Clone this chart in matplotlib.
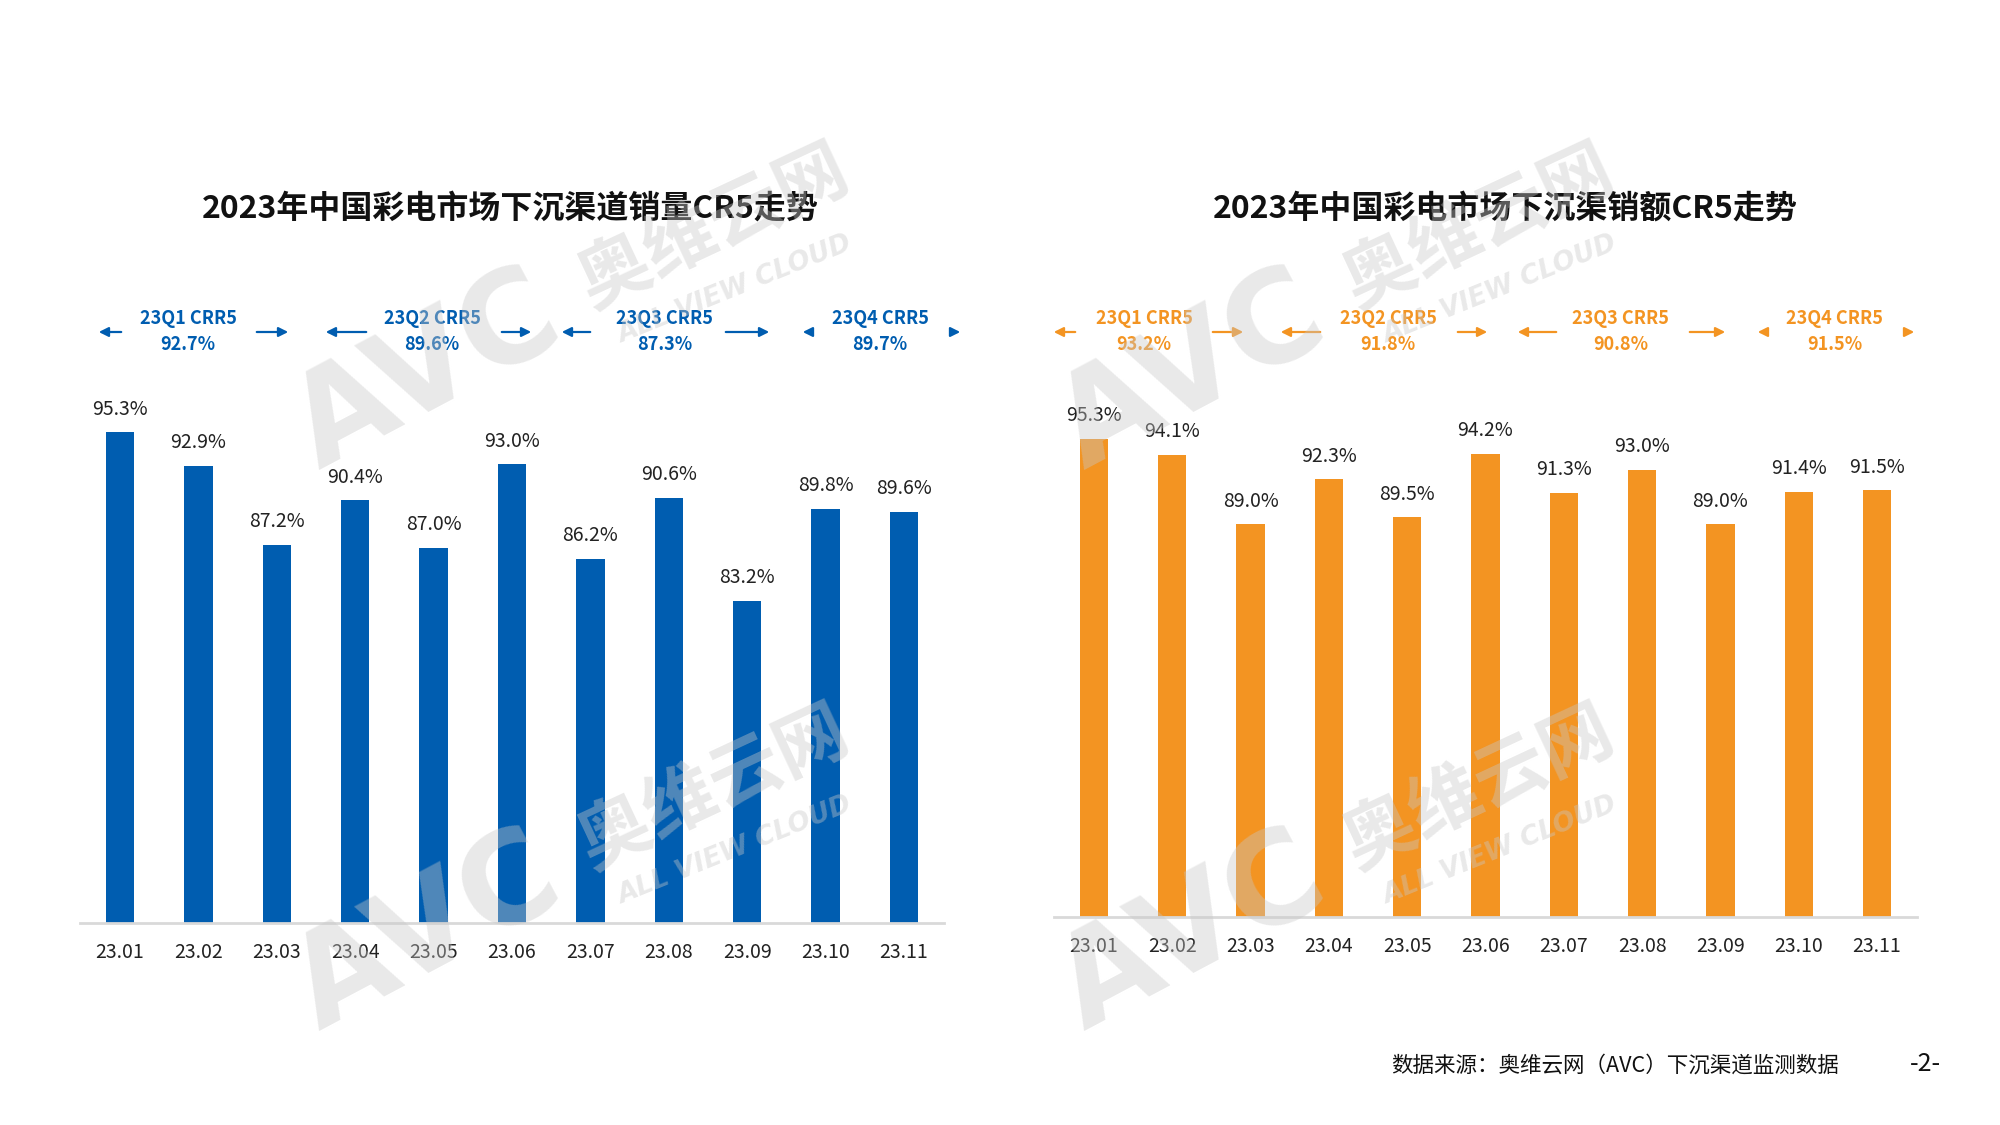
import matplotlib
matplotlib.use('Agg')
import matplotlib.pyplot as plt

plt.rcParams['font.family'] = ['Noto Sans CJK SC', 'DejaVu Sans']

# ---------------- data ----------------
MONTHS = ['23.01', '23.02', '23.03', '23.04', '23.05', '23.06', '23.07', '23.08', '23.09', '23.10', '23.11']
VOLUME_CR5 = [95.3, 92.9, 87.2, 90.4, 87.0, 93.0, 86.2, 90.6, 83.2, 89.8, 89.6]
SALES_CR5 = [95.3, 94.1, 89.0, 92.3, 89.5, 94.2, 91.3, 93.0, 89.0, 91.4, 91.5]
QUARTERS = ['23Q1 CRR5', '23Q2 CRR5', '23Q3 CRR5', '23Q4 CRR5']
VOLUME_Q = [92.7, 89.6, 87.3, 89.7]
SALES_Q = [93.2, 91.8, 90.8, 91.5]

BLUE = '#005DB0'
ORANGE = '#F39422'
W, H = 2000, 1125

def fx(px): return px / W
def fy(py): return 1 - py / H

fig = plt.figure(figsize=(20, 11.25), dpi=100)

def drawBars(rect, values, color, title, titleX):
    ax = fig.add_axes(rect)
    x = list(range(len(values)))
    ax.bar(x, values, width=0.36, color=color, zorder=2)
    for xi, v in zip(x, values):
        ax.annotate(f'{v:.1f}%', (xi, v), xytext=(0, 9), textcoords='offset points',
                    ha='center', va='bottom', fontsize=14, color='#222222')
    ax.set_xlim(-0.51, len(values) - 0.49)
    ax.set_ylim(60, 100)
    ax.set_xticks(x)
    ax.set_xticklabels(MONTHS, fontsize=14, color='#222222')
    ax.tick_params(axis='x', length=0, pad=14)
    ax.set_yticks([])
    for s in ['top', 'right', 'left']:
        ax.spines[s].set_visible(False)
    ax.spines['bottom'].set_color('#d9d9d9')
    ax.spines['bottom'].set_linewidth(2)
    fig.text(fx(titleX), fy(209), title, ha='center', va='center', fontsize=23, fontweight='bold', color='#111111')
    return ax

drawBars([fx(80), fy(923), fx(864), 556 / H], VOLUME_CR5, BLUE, '2023年中国彩电市场下沉渠道销量CR5走势', 510)
drawBars([fx(1054), fy(917), fx(863), 542 / H], SALES_CR5, ORANGE, '2023年中国彩电市场下沉渠销额CR5走势', 1505)

# quarter annotations: (text x, left arrow head, left arrow tail, right arrow tail, right arrow head) in px
leftLayout = [(188, 96, 124, 254, 291), (432, 323, 369, 499, 534), (665, 559, 593, 723, 772), (880, 800, 812, 948, 963)]
rightLayout = [(1144, 1051, 1078, 1210, 1246), (1388, 1278, 1323, 1455, 1490), (1621, 1515, 1559, 1687, 1728), (1835, 1755, 1769, 1903, 1917)]

def drawQuarters(layout, values, color):
    for (tx, lh, lt, rt, rh), q, v in zip(layout, QUARTERS, values):
        fig.text(fx(tx), fy(318), q, ha='center', va='center', fontsize=13, fontweight='bold', color=color)
        fig.text(fx(tx), fy(345), f'{v:.1f}%', ha='center', va='center', fontsize=13, fontweight='bold', color=color)
        for a, b in [(lt, lh), (rt, rh)]:
            fig.add_artist(matplotlib.patches.FancyArrowPatch((fx(a), fy(332)), (fx(b), fy(332)),
                           transform=fig.transFigure, arrowstyle='-|>', mutation_scale=14,
                           color=color, linewidth=1.6))

drawQuarters(leftLayout, VOLUME_Q, BLUE)
drawQuarters(rightLayout, SALES_Q, ORANGE)

# watermarks
for dx, dy in [(0, 0), (765, 0), (0, 561), (765, 561)]:
    fig.text(fx(427 + dx), fy(372 + dy), 'AVC', ha='center', va='center', fontsize=92, fontweight='bold',
             rotation=28, color='#c8c8c8', alpha=0.4, family='DejaVu Sans')
    fig.text(fx(714 + dx), fy(228 + dy), '奥维云网', ha='center', va='center', fontsize=52, fontweight='bold',
             rotation=25, color='#c8c8c8', alpha=0.4)
    fig.text(fx(735 + dx), fy(290 + dy), 'ALL VIEW CLOUD', ha='center', va='center', fontsize=19, fontweight='bold',
             style='italic', rotation=22, color='#c8c8c8', alpha=0.4, family='DejaVu Sans')

fig.text(fx(1839), fy(1066), '数据来源：奥维云网（AVC）下沉渠道监测数据', ha='right', va='center', fontsize=15.5, color='#111111')
fig.text(fx(1925), fy(1064), '-2-', ha='center', va='center', fontsize=18, color='#111111')

fig.savefig('out.png', dpi=100, facecolor='white')
